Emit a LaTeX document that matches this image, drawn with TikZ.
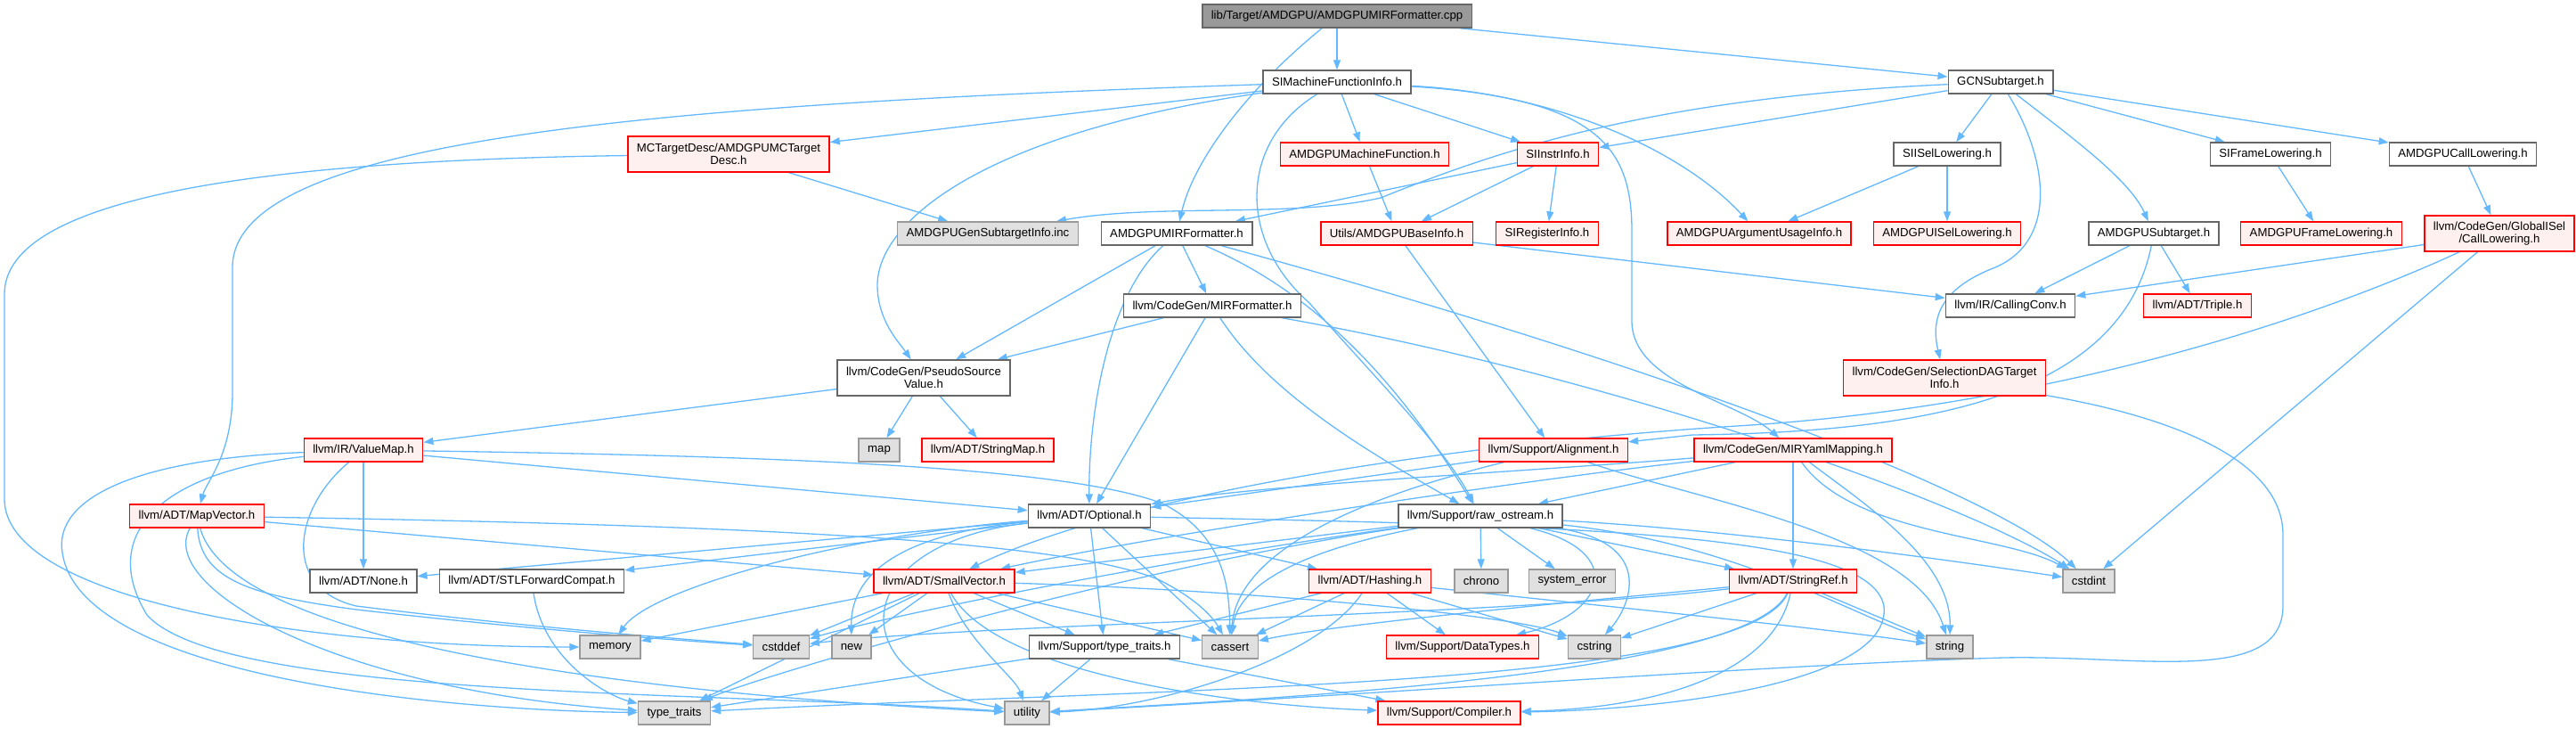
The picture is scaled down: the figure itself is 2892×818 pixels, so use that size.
\documentclass[tikz,border=0pt]{standalone}
\usepackage{fontspec}
\setmainfont{Liberation Sans}
\usetikzlibrary{arrows.meta}
\definecolor{edgec}{HTML}{63B8FF}
\definecolor{redb}{HTML}{FF0000}
\definecolor{redf}{HTML}{FFF0F0}
\definecolor{grayf}{HTML}{E0E0E0}
\definecolor{grayb}{HTML}{999999}
\definecolor{whiteb}{HTML}{666666}
\definecolor{rootf}{HTML}{999999}
\pgfdeclarelayer{bg}
\pgfsetlayers{bg,main}
\begin{document}
\begin{tikzpicture}[x=0.5pt,y=-0.5pt,
  box/.style={draw, line width=0.7pt, font=\fontsize{6.6}{7.2}\selectfont, inner xsep=5pt, inner ysep=0pt, minimum height=13pt, align=center},
  wbox/.style={box, draw=whiteb, fill=white},
  rbox/.style={box, draw=redb, fill=redf},
  gbox/.style={box, draw=grayb, fill=grayf},
  tbox/.style={box, draw=whiteb, fill=rootf},
  two/.style={minimum height=20pt},
  edge/.style={draw=edgec, line width=0.65pt, -{Triangle[length=5.5pt,width=4pt]}}]
\path[use as bounding box] (0,0) rectangle (2892,818);
% nodes
\node[tbox] (root) at (1501,18) {lib/Target/AMDGPU/AMDGPUMIRFormatter.cpp};
\node[wbox] (simfi) at (1501,92) {SIMachineFunctionInfo.h};
\node[wbox] (gcn) at (2246,92) {GCNSubtarget.h};
\node[rbox,two] (mctd) at (818,173) {MCTargetDesc/AMDGPUMCTarget\\Desc.h};
\node[rbox] (amf) at (1532,173) {AMDGPUMachineFunction.h};
\node[rbox] (sii) at (1749,173) {SIInstrInfo.h};
\node[wbox] (sisel) at (2186,173) {SIISelLowering.h};
\node[wbox] (sifl) at (2549,173) {SIFrameLowering.h};
\node[wbox] (acl) at (2765,173) {AMDGPUCallLowering.h};
\node[gbox] (gsi) at (1109,262) {AMDGPUGenSubtargetInfo.inc};
\node[wbox] (amirf) at (1321,262) {AMDGPUMIRFormatter.h};
\node[rbox] (abi) at (1568,262) {Utils/AMDGPUBaseInfo.h};
\node[rbox] (sri) at (1737,262) {SIRegisterInfo.h};
\node[rbox] (aaui) at (1975,262) {AMDGPUArgumentUsageInfo.h};
\node[rbox] (aisl) at (2186,262) {AMDGPUISelLowering.h};
\node[wbox] (ast) at (2418,262) {AMDGPUSubtarget.h};
\node[rbox] (afl) at (2606,262) {AMDGPUFrameLowering.h};
\node[rbox,two] (cl) at (2806,262) {llvm/CodeGen/GlobalISel\\/CallLowering.h};
\node[wbox] (mirf) at (1361,343) {llvm/CodeGen/MIRFormatter.h};
\node[wbox] (cc) at (2257,343) {llvm/IR/CallingConv.h};
\node[rbox] (triple) at (2467,343) {llvm/ADT/Triple.h};
\node[wbox,two] (psv) at (1037,424) {llvm/CodeGen/PseudoSource\\Value.h};
\node[rbox,two] (sdag) at (2183,424) {llvm/CodeGen/SelectionDAGTarget\\Info.h};
\node[rbox] (vmap) at (408,505) {llvm/IR/ValueMap.h};
\node[gbox] (map) at (987,505) {map};
\node[rbox] (smap) at (1109,505) {llvm/ADT/StringMap.h};
\node[rbox] (align) at (1744,505) {llvm/Support/Alignment.h};
\node[rbox] (myaml) at (2013,505) {llvm/CodeGen/MIRYamlMapping.h};
\node[rbox] (mapvec) at (221,579) {llvm/ADT/MapVector.h};
\node[wbox] (opt) at (1223,579) {llvm/ADT/Optional.h};
\node[wbox] (raw) at (1662,579) {llvm/Support/raw\_ostream.h};
\node[wbox] (none) at (408,652) {llvm/ADT/None.h};
\node[wbox] (stlfc) at (597,652) {llvm/ADT/STLForwardCompat.h};
\node[rbox] (svec) at (1060,652) {llvm/ADT/SmallVector.h};
\node[rbox] (hash) at (1538,652) {llvm/ADT/Hashing.h};
\node[gbox] (chrono) at (1663,652) {chrono};
\node[gbox] (syserr) at (1765,652) {system\_error};
\node[rbox] (sref) at (2013,652) {llvm/ADT/StringRef.h};
\node[gbox] (cstdint) at (2345,652) {cstdint};
\node[gbox] (memory) at (685,726) {memory};
\node[gbox] (cstddef) at (877,726) {cstddef};
\node[gbox] (new) at (956,726) {new};
\node[wbox] (ttraitsh) at (1240,726) {llvm/Support/type\_traits.h};
\node[gbox] (cassert) at (1381,726) {cassert};
\node[rbox] (dtypes) at (1642,726) {llvm/Support/DataTypes.h};
\node[gbox] (cstring) at (1790,726) {cstring};
\node[gbox] (string) at (2189,726) {string};
\node[gbox] (ttraits) at (757,800) {type\_traits};
\node[gbox] (utility) at (1153,800) {utility};
\node[rbox] (compiler) at (1627,800) {llvm/Support/Compiler.h};
% edges
\begin{pgfonlayer}{bg}
\draw[edge] (root) -- (simfi);
\draw[edge] (root) .. controls (1400,100) and (1340,180) .. (amirf);
\draw[edge] (root) -- (gcn);
% SIMachineFunctionInfo
\draw[edge] (simfi) -- (mctd);
\draw[edge] (simfi) .. controls (700,118) and (261,160) .. (261,300) -- (261,440) .. controls (261,510) and (232,540) .. (mapvec);
\draw[edge] (simfi) .. controls (1100,150) and (985,250) .. (985,320) .. controls (985,360) and (1010,385) .. (psv);
\draw[edge] (simfi) .. controls (1390,160) and (1390,270) .. (1470,340) .. controls (1540,420) and (1620,500) .. (raw);
\draw[edge] (simfi) -- (amf);
\draw[edge] (simfi) -- (sii);
\draw[edge] (simfi) .. controls (1800,110) and (1832,170) .. (1832,260) -- (1832,360) .. controls (1832,430) and (1950,450) .. (myaml);
\draw[edge] (simfi) .. controls (1750,105) and (1890,170) .. (aaui);
% GCNSubtarget
\draw[edge] (gcn) .. controls (1850,110) and (1680,170) .. (1550,222) .. controls (1450,245) and (1300,228) .. (gsi);
\draw[edge] (gcn) -- (sii);
\draw[edge] (gcn) -- (sisel);
\draw[edge] (gcn) .. controls (2300,180) and (2310,270) .. (2240,300) .. controls (2175,325) and (2168,360) .. (sdag);
\draw[edge] (gcn) .. controls (2320,150) and (2390,200) .. (ast);
\draw[edge] (gcn) -- (sifl);
\draw[edge] (gcn) -- (acl);
% MCTargetDesc
\draw[edge] (mctd) -- (gsi);
\draw[edge] (mctd) .. controls (300,180) and (5,220) .. (5,330) -- (5,560) .. controls (5,670) and (330,726) .. (memory);
% row 3
\draw[edge] (amf) -- (abi);
\draw[edge] (sii) -- (amirf);
\draw[edge] (sii) -- (abi);
\draw[edge] (sii) -- (sri);
\draw[edge] (sisel) -- (aaui);
\draw[edge] (sisel) -- (aisl);
\draw[edge] (sifl) -- (afl);
\draw[edge] (acl) -- (cl);
% AMDGPUMIRFormatter.h
\draw[edge] (amirf) -- (mirf);
\draw[edge] (amirf) -- (psv);
\draw[edge] (amirf) .. controls (1245,330) and (1222,460) .. (opt);
\draw[edge] (amirf) .. controls (1480,330) and (1570,430) .. (raw);
\draw[edge] (amirf) .. controls (1900,420) and (2250,560) .. (cstdint);
% AMDGPUBaseInfo
\draw[edge] (abi) -- (cc);
\draw[edge] (abi) -- (align);
% AMDGPUSubtarget
\draw[edge] (ast) -- (cc);
\draw[edge] (ast) -- (triple);
\draw[edge] (ast) .. controls (2380,450) and (2150,485) .. (1900,488) -- (align);
% CallLowering
\draw[edge] (cl) -- (cc);
\draw[edge] (cl) -- (cstdint);
\draw[edge] (cl) .. controls (2550,380) and (2250,460) .. (1950,478) .. controls (1600,500) and (1250,560) .. (svec);
% MIRFormatter
\draw[edge] (mirf) -- (psv);
\draw[edge] (mirf) -- (opt);
\draw[edge] (mirf) .. controls (1430,450) and (1560,520) .. (raw);
\draw[edge] (mirf) .. controls (1800,420) and (2200,560) .. (cstdint);
% PseudoSourceValue
\draw[edge] (psv) -- (map);
\draw[edge] (psv) -- (smap);
\draw[edge] (psv) -- (vmap);
% SelectionDAGTargetInfo
\draw[edge] (sdag) .. controls (2450,470) and (2563,520) .. (2563,600) -- (2563,680) .. controls (2563,770) and (2400,735) .. (2250,738) .. controls (2000,745) and (1500,782) .. (utility);
% ValueMap
\draw[edge] (vmap) -- (opt);
\draw[edge] (vmap) -- (none);
\draw[edge] (vmap) .. controls (900,512) and (1200,525) .. (1305,565) .. controls (1375,600) and (1380,660) .. (cassert);
\draw[edge] (vmap) .. controls (330,570) and (315,660) .. (400,680) .. controls (600,705) and (780,718) .. (cstddef);
\draw[edge] (vmap) .. controls (150,515) and (60,560) .. (70,620) .. controls (90,760) and (500,797) .. (ttraits);
\draw[edge] (vmap) .. controls (180,530) and (110,600) .. (165,690) .. controls (250,785) and (800,775) .. (utility);
% Alignment
\draw[edge] (align) -- (opt);
\draw[edge] (align) .. controls (1520,560) and (1390,620) .. (cassert);
\draw[edge] (align) .. controls (1900,560) and (2150,600) .. (string);
% MIRYamlMapping
\draw[edge] (myaml) .. controls (1700,530) and (1400,545) .. (opt);
\draw[edge] (myaml) -- (raw);
\draw[edge] (myaml) -- (sref);
\draw[edge] (myaml) .. controls (2080,600) and (2250,600) .. (cstdint);
\draw[edge] (myaml) .. controls (2100,570) and (2190,630) .. (string);
\draw[edge] (myaml) .. controls (1700,540) and (1300,600) .. (svec);
% MapVector
\draw[edge] (mapvec) -- (svec);
\draw[edge] (mapvec) .. controls (900,590) and (1200,610) .. (1300,650) .. controls (1340,670) and (1360,690) .. (cassert);
\draw[edge] (mapvec) .. controls (225,650) and (280,668) .. (400,684) .. controls (600,707) and (780,720) .. (cstddef);
\draw[edge] (mapvec) .. controls (175,660) and (380,775) .. (ttraits);
\draw[edge] (mapvec) .. controls (260,720) and (700,778) .. (utility);
% Optional
\draw[edge] (opt) -- (none);
\draw[edge] (opt) -- (stlfc);
\draw[edge] (opt) -- (hash);
\draw[edge] (opt) -- (ttraitsh);
\draw[edge] (opt) -- (cassert);
\draw[edge] (opt) .. controls (950,600) and (730,660) .. (memory);
\draw[edge] (opt) .. controls (1000,600) and (955,650) .. (new);
\draw[edge] (opt) .. controls (950,610) and (940,760) .. (utility);
\draw[edge] (opt) .. controls (1800,590) and (2100,600) .. (2115,680) .. controls (2125,770) and (1850,797) .. (compiler);
% raw_ostream
\draw[edge] (raw) -- (svec);
\draw[edge] (raw) -- (sref);
\draw[edge] (raw) .. controls (1830,620) and (1800,690) .. (dtypes);
\draw[edge] (raw) .. controls (1450,620) and (1390,660) .. (cassert);
\draw[edge] (raw) -- (chrono);
\draw[edge] (raw) -- (syserr);
\draw[edge] (raw) .. controls (1860,610) and (1830,680) .. (cstring);
\draw[edge] (raw) .. controls (1950,595) and (2200,630) .. (cstdint);
\draw[edge] (raw) .. controls (1950,610) and (2080,690) .. (string);
\draw[edge] (raw) .. controls (1300,630) and (1000,690) .. (cstddef);
\draw[edge] (raw) .. controls (1250,640) and (850,760) .. (ttraits);
% Hashing
\draw[edge] (hash) -- (ttraitsh);
\draw[edge] (hash) -- (cassert);
\draw[edge] (hash) .. controls (1480,740) and (1300,795) .. (utility);
\draw[edge] (hash) -- (dtypes);
\draw[edge] (hash) -- (cstring);
\draw[edge] (hash) .. controls (1800,680) and (2050,705) .. (string);
% StringRef
\draw[edge] (sref) .. controls (1990,760) and (1850,795) .. (compiler);
\draw[edge] (sref) .. controls (1800,672) and (1500,700) .. (cassert);
\draw[edge] (sref) -- (cstring);
\draw[edge] (sref) -- (string);
\draw[edge] (sref) .. controls (1960,772) and (1300,772) .. (ttraits);
\draw[edge] (sref) .. controls (1960,760) and (1400,785) .. (utility);
\draw[edge] (sref) .. controls (1700,690) and (1100,700) .. (cstddef);
% SmallVector
\draw[edge] (svec) -- (memory);
\draw[edge] (svec) -- (cstddef);
\draw[edge] (svec) -- (new);
\draw[edge] (svec) -- (ttraits);
\draw[edge] (svec) .. controls (1085,720) and (1140,760) .. (utility);
\draw[edge] (svec) -- (ttraitsh);
\draw[edge] (svec) -- (cassert);
\draw[edge] (svec) .. controls (1400,662) and (1700,690) .. (cstring);
\draw[edge] (svec) .. controls (1120,760) and (1400,792) .. (compiler);
% type_traits.h, STLForwardCompat
\draw[edge] (ttraitsh) -- (ttraits);
\draw[edge] (ttraitsh) -- (utility);
\draw[edge] (ttraitsh) -- (compiler);
\draw[edge] (stlfc) .. controls (610,740) and (680,780) .. (ttraits);
\end{pgfonlayer}
\end{tikzpicture}
\end{document}
